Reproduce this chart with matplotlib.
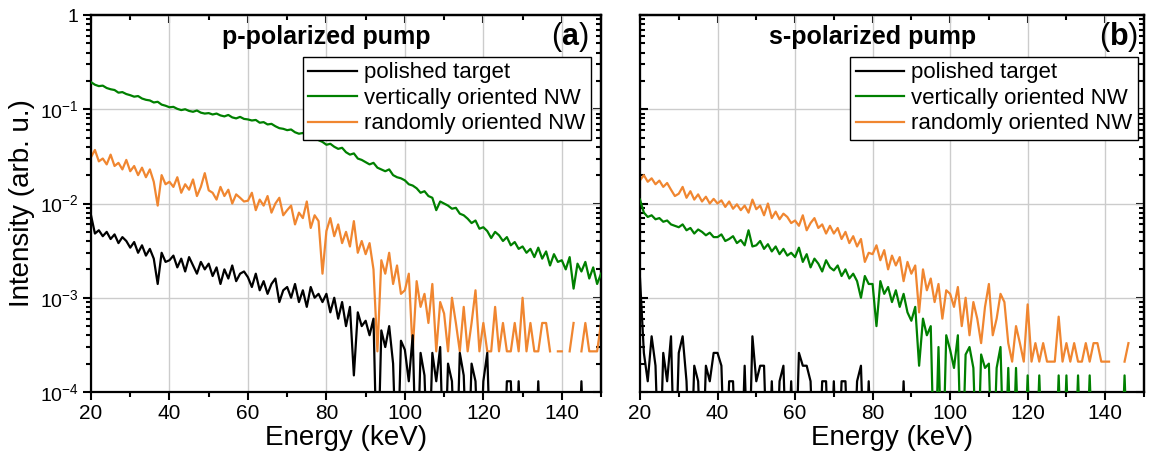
import numpy as np
import matplotlib.pyplot as plt
from matplotlib.ticker import MultipleLocator, LogLocator, NullFormatter

plt.rcParams['font.family'] = ['Liberation Sans', 'DejaVu Sans']
plt.rcParams['mathtext.fontset'] = 'custom'
plt.rcParams['mathtext.rm'] = 'Liberation Sans'
plt.rcParams['mathtext.it'] = 'Liberation Sans'
plt.rcParams['mathtext.bf'] = 'Liberation Sans:bold'

# photon energy axis (keV), one reading per keV
energy = np.arange(20, 151)

labels = ["polished target", "vertically oriented NW", "randomly oriented NW"]
colors = ["black", "#008000", "#F08630"]

# (a) p-polarized pump -- readings in units of 1e-3 / 1e-4
green_a = np.array([
    194, 182, 176, 178, 168, 163, 160, 150, 152, 145,
    141, 136, 138, 130, 126, 124, 118, 120, 112, 109,
    105, 106, 101, 98, 100, 96, 94, 97, 92, 90,
    91, 88, 90, 86, 84, 87, 82, 80, 83, 79,
    78, 76, 77, 72, 73, 69, 70, 66, 63, 62,
    60, 61, 57, 55, 56, 52, 50, 51, 47, 45,
    42, 43, 40, 38, 39, 35, 33, 34, 30, 29,
    27.5, 26, 27, 24, 23, 22, 23, 20, 19, 18.5,
    17.6, 16, 15.5, 14.5, 13, 13.5, 12, 11.5, 8.5, 10.5,
    10, 9.5, 8.8, 9, 7.8, 7.5, 6.9, 6.2, 6.6, 5.4,
    5.6, 5.1, 4.3, 5.0, 4.6, 4.0, 4.4, 3.6, 3.9, 3.3,
    3.5, 3.0, 3.3, 2.7, 3.4, 2.6, 3.1, 2.2, 2.9, 2.4,
    2.5, 2.0, 2.7, 1.25, 2.3, 1.9, 2.4, 1.6, 2.1, 1.4, 1.8]) * 1e-3

orange_a = np.array([
    310, 370, 280, 300, 260, 330, 250, 270, 230, 290,
    220, 250, 200, 240, 190, 230, 170, 95, 200, 160,
    170, 150, 190, 130, 160, 140, 180, 120, 150, 210,
    138, 130, 110, 150, 120, 140, 100, 125, 115, 105,
    107, 130, 85, 110, 95, 120, 80, 100, 115, 75,
    85, 95, 60, 80, 70, 105, 55, 75, 65, 18,
    51, 70, 45, 60, 38, 50, 35, 65, 30, 40,
    29, 38, 20, 2.7, 25, 18, 30, 14, 22, 11,
    12, 18, 2.7, 15, 8, 11, 5.4, 14, 2.7, 9,
    6.8, 2.7, 10, 5.4, 2.7, 8, 2.7, 5.4, 12, 2.7,
    5.4, 2.7, 2.7, 8, 2.7, 5.4, 2.7, 2.7, 5.4, 2.7,
    10, 2.7, 5.4, 2.7, 2.7, 5.4, 5.4, 2.7, np.nan, 2.7,
    2.7, np.nan, 2.7, 5.4, np.nan, 2.7, 5.4, 2.7, 2.7, 2.7, 5.4]) * 1e-4

black_a = np.array([
    75, 48, 52, 45, 50, 42, 47, 38, 44, 40,
    34, 39, 30, 36, 28, 33, 26, 14, 30, 24,
    25, 28, 21, 26, 19, 27, 22, 18, 24, 20,
    23, 17, 21, 14, 20, 16, 22, 15, 18, 19,
    16.5, 13, 18, 12, 15, 11, 14, 16, 9, 12,
    13, 10, 14, 9, 12, 8, 13, 10, 11, 9,
    11, 7, 10, 6, 9, 5, 8, 1.5, 7, 5,
    5.7, 4, 6, 0.1, 4.5, 3, 5, 2, 0.1, 3.5,
    2.8, 1.3, 4, 0.1, 2.6, 1.5, 0.1, 2.6, 1.3, 3,
    0.1, 2, 1.3, 0.1, 2.6, 1.5, 0.1, 2, 1.3, 0.1,
    1.3, 2.6, 0.1, 0.1, 0.1, 0.1, 1.3, 1.3, 0.1, 1.3,
    0.1, 0.1, 0.1, 0.1, 1.3, 0.1, 0.1, 0.1, 0.1, 0.1,
    0.1, 0.1, 0.1, 0.1, 0.1, 1.3, 0.1, 0.1, 0.1, 0.1, 0.1]) * 1e-4

# (b) s-polarized pump -- readings in units of 1e-4
orange_b = np.array([
    176, 200, 170, 185, 160, 175, 150, 165, 140, 120,
    127, 150, 115, 135, 110, 125, 105, 118, 100, 112,
    100, 108, 92, 105, 88, 98, 85, 95, 80, 110,
    87, 95, 75, 100, 70, 82, 68, 78, 72, 62,
    66, 58, 75, 52, 62, 70, 55, 60, 48, 58,
    48, 55, 42, 50, 38, 45, 35, 42, 24, 30,
    29, 36, 25, 32, 20, 28, 22, 27, 15, 24,
    18, 22, 7, 20, 12, 16, 9, 14, 6, 12,
    11, 8, 13, 5, 10, 4, 9, 6, 3.3, 8,
    14, 4, 6, 11, 9, 3.3, 2.1, 5, 3.3, 2.1,
    8.5, 2.1, 3.3, 2.1, 3.3, 2.1, 2.1, 2.1, 6.3, 2.1,
    3.3, 2.1, 3.3, 2.1, 2.1, 3.3, 2.1, 3.3, 3.3, 2.1,
    2.1, 2.1, np.nan, 2.1, np.nan, 2.1, 3.3, np.nan, np.nan, np.nan, np.nan]) * 1e-4

green_b = np.array([
    110, 80, 72, 75, 68, 70, 64, 66, 60, 58,
    56, 60, 52, 55, 48, 53, 50, 46, 49, 44,
    44, 47, 40, 42, 45, 38, 41, 36, 52, 35,
    36, 40, 33, 37, 31, 35, 29, 33, 28, 30,
    27, 34, 24, 29, 21, 26, 23, 19, 25, 21,
    19.5, 22, 17, 20, 16, 18, 15, 10, 17, 14,
    14, 5, 15, 11, 13, 9, 12, 8, 11, 7,
    5.7, 8, 1.9, 6, 4, 5, 0.1, 3, 0.1, 4,
    2.8, 1.8, 4, 0.1, 2.5, 3, 1.8, 0.1, 2.5, 1.8,
    2, 0.1, 1.8, 3, 0.1, 1.8, 0.1, 1.8, 0.1, 0.1,
    1.5, 0.1, 0.1, 1.5, 0.1, 0.1, 0.1, 0.1, 1.5, 0.1,
    1.5, 0.1, 0.1, 1.5, 0.1, 0.1, 1.5, 0.1, 0.1, 0.1,
    0.1, 0.1, 0.1, 0.1, 0.1, 1.5, 0.1, 0.1, 0.1, 0.1, 0.1]) * 1e-4

black_b = np.array([
    16, 2.6, 1.3, 3.9, 1.9, 0.1, 2.6, 1.3, 3.9, 0.1,
    2.6, 3.9, 1.3, 0.1, 1.9, 1.3, 0.1, 1.9, 1.3, 2.6,
    2.6, 1.9, 0.1, 1.3, 1.3, 0.1, 0.1, 1.9, 0.1, 3.9,
    1.3, 1.9, 1.9, 0.1, 1.3, 0.1, 1.3, 1.9, 0.1, 1.3,
    0.1, 2.6, 1.9, 1.9, 1.3, 0.1, 0.1, 1.3, 1.3, 0.1,
    1.3, 0.1, 1.3, 1.3, 0.1, 0.1, 1.3, 1.9, 0.1, 1.3,
    0.1, 0.1, 0.1, 0.1, 0.1, 0.1, 0.1, 0.1, 1.3, 0.1,
    0.1, 0.1, 0.1, 0.1, 0.1, 0.1, 0.1, 0.1, 0.1, 0.1,
    0.1, 0.1, 0.1, 0.1, 0.1, 0.1, 0.1, 0.1, 0.1, 0.1,
    0.1, 0.1, 0.1, 0.1, 0.1, 0.1, 0.1, 0.1, 0.1, 0.1,
    0.1, 0.1, 0.1, 0.1, 0.1, 0.1, 0.1, 0.1, 0.1, 0.1,
    0.1, 0.1, 0.1, 0.1, 0.1, 0.1, 0.1, 0.1, 0.1, 0.1,
    0.1, 0.1, 0.1, 0.1, 0.1, 0.1, 0.1, 0.1, 0.1, 0.1, 0.1]) * 1e-4

panels = [
    ("p-polarized pump", "a", [black_a, green_a, orange_a]),
    ("s-polarized pump", "b", [black_b, green_b, orange_b]),
]

fig = plt.figure(figsize=(11.49, 4.66), dpi=100)
ax_a = fig.add_axes([0.0792, 0.1588, 0.4439, 0.809])
ax_b = fig.add_axes([0.557, 0.1588, 0.4386, 0.809])


def set_ticks(axis_obj, log):
    if log:
        axis_obj.set_major_locator(LogLocator(base=10, numticks=10))
        axis_obj.set_minor_locator(LogLocator(base=10, subs=np.arange(2, 10), numticks=10))
        axis_obj.set_minor_formatter(NullFormatter())
    else:
        axis_obj.set_major_locator(MultipleLocator(20))
        axis_obj.set_minor_locator(MultipleLocator(10))


for ax, (title, letter, series) in zip([ax_a, ax_b], panels):
    lines = []
    for y, c, lab, z in zip(series, colors, labels, [4, 3, 2]):
        ln, = ax.plot(energy, y, color=c, lw=1.6, label=lab, zorder=z)
        lines.append(ln)
    ax.set_yscale('log')
    ax.set_xlim(20, 150)
    ax.set_ylim(1e-4, 1)
    set_ticks(ax.xaxis, False)
    set_ticks(ax.yaxis, True)
    ax.grid(True, which='major', color='#cccccc', lw=1, zorder=0)
    ax.set_axisbelow(True)
    ax.tick_params(axis='x', which='both', direction='out', width=1.5, labelsize=15, pad=3)
    ax.tick_params(axis='y', which='both', direction='out' if letter == 'a' else 'in',
                   width=1.5, labelsize=14, pad=3)
    ax.tick_params(which='major', length=6)
    ax.tick_params(which='minor', length=3.5)
    for sp in ax.spines.values():
        sp.set_linewidth(1.6)

    # mirrored ticks on top and right, pointing inwards
    top = ax.secondary_xaxis('top')
    set_ticks(top.xaxis, False)
    top.tick_params(which='both', direction='in', width=1.5, labeltop=False)
    top.tick_params(which='major', length=6)
    top.tick_params(which='minor', length=3.5)
    top.spines['top'].set_linewidth(1.6)
    right = ax.secondary_yaxis('right')
    set_ticks(right.yaxis, True)
    right.tick_params(which='both', direction='in', width=1.5, labelright=False)
    right.tick_params(which='major', length=6)
    right.tick_params(which='minor', length=3.5)
    right.spines['right'].set_linewidth(1.6)

    ax.set_xlabel("Energy (keV)", fontsize=20, labelpad=1)
    ax.text(0.462, 0.942, title, transform=ax.transAxes, ha='center', va='center',
            fontsize=18, fontweight='bold')
    ax.text(0.975 if letter == 'a' else 0.988, 0.942, "($\\mathbf{" + letter + "}$)",
            transform=ax.transAxes, ha='right', va='center', fontsize=22)
    leg = ax.legend(handles=lines, loc='upper right',
                    bbox_to_anchor=(0.980 if letter == 'a' else 0.988, 0.889),
                    fontsize=16, frameon=True, fancybox=False, framealpha=1,
                    edgecolor='black', borderpad=0.25, labelspacing=0.2,
                    handlelength=2.2, handletextpad=0.3, borderaxespad=0)
    leg.get_frame().set_linewidth(1.0)

ax_a.set_yticks([1e-4, 1e-3, 1e-2, 1e-1, 1])
ax_a.set_yticklabels(["10$^{-4}$", "10$^{-3}$", "10$^{-2}$", "10$^{-1}$", "1"])
ax_a.set_ylabel("Intensity (arb. u.)", fontsize=20, labelpad=3)
ax_b.set_yticks([1e-4, 1e-3, 1e-2, 1e-1, 1])
ax_b.set_yticklabels([])

plt.savefig("out.png", dpi=100)
